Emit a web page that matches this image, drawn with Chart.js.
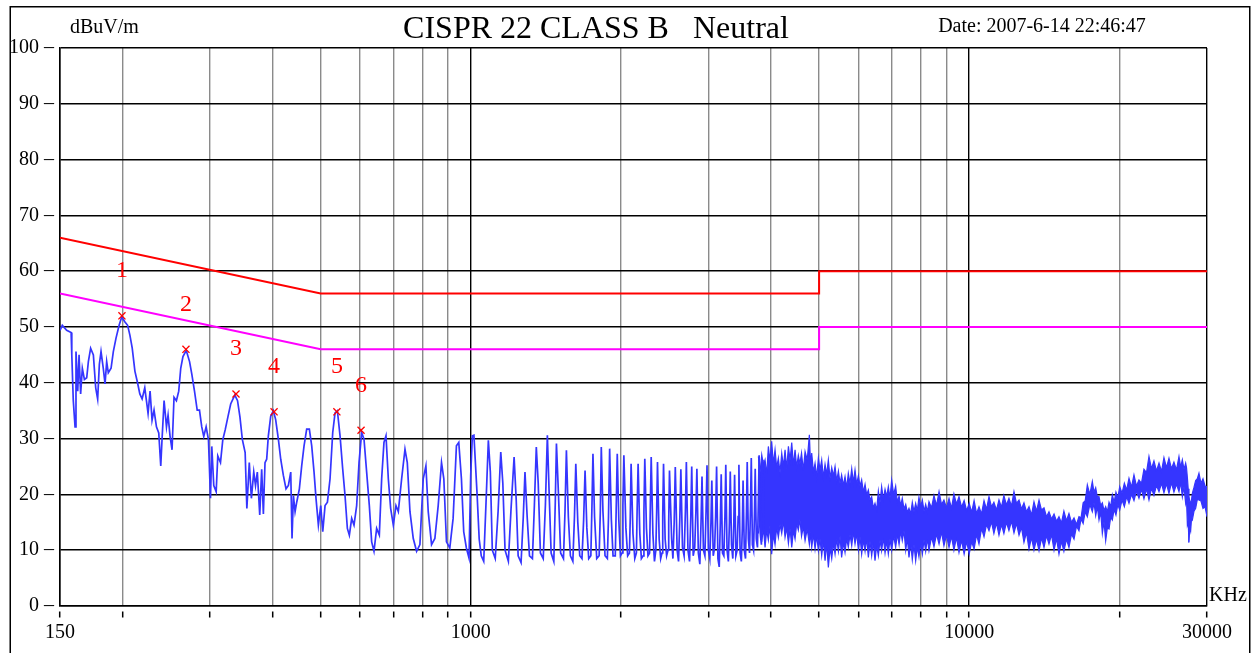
<!DOCTYPE html>
<html><head><meta charset="utf-8">
<script src="https://cdn.jsdelivr.net/npm/chart.js@4"></script>
<style>html,body{margin:0;padding:0;background:#fff}canvas{display:block}</style>
</head><body>
<canvas id="c" width="1252" height="653"></canvas>
<script>
// ---- measured trace (kHz / dBuV) ----
const traceFreq = [
150,151.6,154.7,157.9,158.4,159.5,160.8,161.5,162.8,163.8,
165,166.3,167.9,169.7,171,172.8,175,176.9,178.5,179.9,
181.3,183.2,184.7,186.1,187.5,189.9,191.9,194.3,197.1,199.5,
202.5,205,207.2,209.4,212,214.6,216.9,219.2,221.9,223.6,
225.3,227.4,229.5,231.6,234.2,236.7,238.9,240.3,242.6,245.3,
247.1,249.4,251.7,254,256.8,259.6,262,264.7,268.8,272.9,
275.8,279.2,282.7,285.7,288.7,291.4,294.6,297.8,300.6,302.4,
305.2,308.6,310.9,314.8,318.2,321.8,325.8,330,336.3,340.6,
344.4,348.3,352.8,355.6,359.6,363.1,367.1,370.1,373.2,377.4,
380.8,383.8,386.7,389.7,392.7,397,401.9,406.2,411.3,415.8,
420.9,426.1,430.8,435.5,438.1,440.9,444.3,447.7,453.2,458.1,
463.1,468.8,474.6,479.8,485,489.5,494.8,500.2,504.9,510.3,
515.9,522.2,528.7,534.4,540.2,546.9,553.6,559.6,565.7,570.9,
577.1,583.3,590.5,597,604.3,610.9,618.4,626.1,632.9,639.7,
647.6,655.7,662.8,669.9,676.2,683.5,690.9,699.5,708.1,715.8,
726.9,738.2,746.1,755.4,767,778.9,790.9,803.1,813.1,821.9,
834.6,847.5,860.6,873.9,883.3,894.1,908,922,936.2,946.4,
958.1,968.3,980.3,992.3,1000,1007.6,1015,1030,1040,1050,
1062,1075,1085,1095,1105,1120,1135,1149,1160,1172,
1190,1205,1222,1234,1245,1262,1275,1285,1298,1312,
1330,1342,1354,1366,1380,1398,1412,1425,1437,1450,
1468,1478,1486,1500,1515,1535,1546,1556,1570,1585,
1603,1615,1625,1640,1655,1672,1685,1696,1710,1725,
1742,1750,1759,1772,1790,1810,1820,1828,1842,1860,
1880,1890,1900,1915,1930,1950,1958,1968,1982,1997,
2012,2020,2029,2048,2065,2082,2090,2098,2116,2134,
2150,2157,2167,2184,2200,2218,2226,2235,2252,2268,
2285,2293,2302,2320,2337,2352,2361,2370,2388,2405,
2420,2428,2437,2455,2472,2488,2496,2505,2530,2545,
2560,2573,2595,2612,2628,2640,2660,2680,2696,2708,
2728,2748,2764,2776,2795,2815,2830,2843,2862,2882,
2898,2911,2930,2950,2966,2979,2998,3018,3034,3046,
3066,3086,3100,3114,3133,3152,3168,3181,3200,3220,
3236,3249,3268,3288,3304,3317,3336,3356,3372,3384,
3404,3424,3440,3452,3471,3491,3507,3519,3539,3559,
3575,3587,3606,3626,3642,3655,3674,3694,3710,3722,
3741,3761,3777,3790,3810,3830,3845,3857,3875
];
const traceLevel = [
49.4,50.3,49.4,49.0,45.0,36.8,32.1,45.6,38.5,45.0,
38.0,42.6,40.6,40.9,43.8,46.2,45.0,39.1,37.1,43.3,
45.6,42.6,39.8,43.8,41.8,42.6,45.6,48.0,50.3,51.8,
50.9,50.3,48.5,46.2,42.1,40.0,38.0,37.1,39.1,36.8,
34.5,38.5,33.3,35.1,32.1,31.0,25.1,29.8,36.8,32.1,
34.2,30.4,28.0,37.4,36.8,38.5,42.6,44.7,45.8,43.8,
41.5,38.5,35.1,35.1,32.1,30.4,32.1,29.8,19.3,28.6,
21.6,20.5,26.9,25.7,29.8,31.6,33.9,36.2,37.8,36.8,
33.9,29.8,27.5,17.5,25.7,19.3,24.0,21.6,24.0,16.3,
24.5,16.5,25.7,26.3,30.5,34.0,35.0,33.4,29.9,26.3,
23.4,21.0,21.6,24.0,12.1,19.8,16.9,18.6,21.0,25.1,
28.7,31.7,31.7,28.7,24.0,19.2,14.5,18.0,13.3,18.0,
18.6,22.8,31.1,34.6,35.0,30.5,24.6,19.8,13.9,12.7,
15.7,14.5,18.0,25.7,31.1,29.9,24.0,18.0,11.5,9.8,
13.9,12.7,22.8,29.3,30.5,22.8,17.5,14.5,18.0,16.9,
22.8,28.1,25.7,16.9,12.1,9.8,11.0,22.8,25.1,16.9,
11.0,12.1,18.0,25.7,22.8,11.5,10.4,15.7,28.7,29.3,
22.8,13.3,10.4,8.6,23.4,30.5,30.6,20.0,12.0,9.0,
8.0,20.0,29.7,24.0,10.0,8.5,17.0,27.6,22.0,10.0,
8.0,17.5,26.7,19.0,9.0,7.8,16.0,24.0,16.0,9.0,
8.5,18.0,28.5,22.0,9.5,8.5,18.0,30.6,20.0,9.5,
8.0,18.5,29.1,20.0,9.5,8.5,17.0,27.9,16.0,9.0,
8.0,16.0,25.5,15.0,9.0,8.5,15.5,24.3,14.0,8.5,
9.0,17.0,27.3,16.0,8.5,9.0,17.0,28.5,17.0,9.0,
8.5,16.0,28.2,15.5,9.0,9.0,17.0,27.3,15.5,9.0,
9.5,18.0,27.0,14.0,9.0,9.5,16.0,25.5,13.0,8.5,
9.5,17.0,25.5,13.0,8.5,9.0,17.0,26.4,14.0,9.0,
9.5,18.0,26.7,13.0,8.0,10.0,17.0,25.8,12.0,8.5,
9.5,16.0,25.5,12.0,9.0,10.0,15.0,24.3,12.0,8.5,
15.0,24.9,10.0,8.0,16.0,24.5,10.5,9.0,17.0,25.8,
10.0,8.0,16.0,25.0,9.0,10.5,17.0,24.6,9.5,7.5,
15.0,23.2,10.0,9.0,17.0,25.2,10.0,8.5,15.0,22.5,
9.0,10.5,16.0,25.0,8.5,7.0,15.0,23.6,9.5,9.0,
16.0,25.3,10.0,8.0,15.0,24.1,11.0,8.5,15.0,23.5,
9.0,10.0,16.0,25.3,9.5,8.0,14.0,22.5,10.0,8.5,
17.0,25.8,12.0,9.5,18.0,26.5,11.0,10.0,17.0,24.6,
12.0,10.5,19.0,27.0,13.0,11.0,20.0,26.2,13.0
];
// ---- dense part of the trace (3.8 - 30 MHz): read as max / min envelope ----
const bandFreq = [
3777,3806,3836,3865,3895,3925,3955,3985,4016,4047,4079,4110,4142,4174,4207,4240,4272,4305,4339,4372,
4406,4440,4474,4508,4542,4576,4610,4648,4686,4733,4780,4806,4832,4870,4907,4945,4983,5021,5060,5099,
5139,5178,5218,5259,5300,5341,5382,5424,5466,5507,5548,5592,5636,5679,5722,5767,5813,5857,5902,5948,
5995,6040,6086,6134,6182,6229,6277,6325,6374,6423,6473,6523,6574,6624,6674,6727,6780,6832,6884,6937,
6991,7056,7121,7177,7234,7288,7342,7401,7460,7516,7573,7631,7690,7750,7810,7870,7930,7993,8056,8118,
8180,8243,8306,8403,8500,8600,8701,8800,8900,9005,9111,9215,9320,9430,9541,9655,9770,9885,10000,10115,
10230,10347,10464,10587,10710,10834,10959,11084,11210,11343,11476,11608,11740,11878,12017,12158,12300,12444,12589,12734,
12880,13031,13183,13336,13490,13649,13808,13969,14130,14294,14458,14629,14800,14970,15141,15315,15490,15673,15856,16043,
16230,16418,16607,16768,16930,17095,17261,17462,17663,17801,17940,18078,18216,18358,18500,18643,18786,18933,19080,19226,
19372,19536,19700,19872,20045,20262,20480,20701,20923,21166,21410,21659,21909,22164,22420,22683,22946,23213,23480,23757,
24034,24312,24590,24878,25166,25458,25750,26053,26357,26563,26770,26976,27183,27291,27400,27503,27606,27713,27820,27928,
28036,28253,28470,28688,28907,29178,29450,29725,30000
];
const bandHigh = [
26.8,24.0,27.1,25.3,26.2,23.5,28.6,26.0,29.5,25.5,28.0,24.8,26.5,23.9,27.4,25.0,28.0,24.6,28.6,26.1,
29.3,25.2,28.0,24.9,27.0,25.5,27.4,24.3,27.7,26.2,30.7,25.4,27.4,24.0,25.6,23.1,26.5,24.4,26.2,23.0,
25.4,23.6,26.2,22.9,24.8,23.3,25.0,22.4,24.2,22.0,23.5,21.6,23.2,21.2,23.8,22.0,24.6,22.1,24.4,21.8,
23.4,21.5,22.6,20.4,21.8,19.9,20.8,19.0,19.6,17.6,18.4,17.2,20.6,18.5,21.4,19.1,20.9,19.6,21.4,19.4,
22.6,20.0,21.5,18.6,19.7,18.0,19.3,17.4,18.2,16.8,17.5,16.5,18.6,16.9,18.4,17.1,19.5,17.8,19.0,17.0,
18.2,16.9,18.7,17.6,19.8,18.0,20.5,18.2,19.0,17.6,19.3,17.5,20.1,18.3,19.6,17.7,18.9,17.1,18.4,16.8,
18.9,16.6,17.8,16.5,18.9,17.3,19.6,17.8,18.6,17.2,19.0,17.7,19.8,18.1,19.3,17.9,20.5,18.4,19.0,17.4,
18.5,16.9,17.8,16.3,18.7,17.0,19.0,17.2,17.6,16.0,16.9,15.6,16.5,15.2,16.0,14.9,17.0,15.3,16.6,15.0,
15.8,14.6,16.0,15.8,18.5,18.9,21.7,20.0,22.3,20.4,21.2,19.5,19.6,18.0,18.5,17.1,17.8,16.9,18.6,17.8,
19.9,18.6,20.4,19.4,21.4,20.2,22.0,20.8,22.9,21.3,23.5,21.5,22.6,22.0,24.5,23.9,26.8,24.6,26.0,24.2,
25.6,24.1,26.6,24.8,26.5,24.6,25.8,24.4,26.8,24.9,26.2,24.5,25.6,24.8,23.0,21.0,19.6,18.7,18.5,19.0,
20.2,21.3,22.5,22.8,23.8,22.0,22.8,21.5,21.4
];
const bandLow = [
13.0,15.2,11.5,14.0,10.5,13.6,11.8,14.4,9.3,12.8,11.0,14.1,12.3,14.6,13.0,15.3,12.3,14.0,11.2,13.9,
10.5,13.5,12.0,14.8,13.6,15.5,12.5,14.2,11.7,13.8,11.0,13.2,10.5,12.9,10.2,12.6,9.9,12.0,9.0,11.8,
8.1,11.2,6.9,10.4,8.5,11.3,9.3,12.0,9.8,12.5,8.7,11.4,9.6,12.1,10.5,12.8,10.8,13.3,11.1,13.0,
10.0,12.4,9.3,11.9,9.8,12.2,8.7,11.6,9.0,11.5,8.1,10.9,9.0,11.8,9.9,12.3,9.5,11.7,9.3,12.0,
10.0,12.6,10.5,12.9,11.0,13.4,11.7,13.5,10.0,12.2,8.7,11.3,8.3,11.0,8.1,10.6,8.8,11.4,9.3,11.9,
9.8,12.1,9.9,12.4,10.6,12.9,11.1,13.3,10.8,12.7,10.5,12.5,10.0,12.3,9.6,11.8,9.3,11.6,9.3,11.5,
10.2,12.8,11.1,13.9,12.4,14.6,13.5,15.1,13.0,14.9,12.7,14.6,13.0,15.0,13.5,15.2,13.1,14.8,12.7,14.1,
11.4,13.2,10.2,12.3,10.0,12.0,9.9,12.2,10.5,12.6,11.1,12.8,10.0,12.1,9.3,11.6,9.8,12.0,10.5,12.9,
12.0,14.3,13.5,15.6,14.8,16.9,16.0,18.2,16.9,18.5,16.2,17.8,15.4,16.9,13.0,15.1,11.7,14.0,13.8,15.9,
15.4,17.3,16.3,18.2,17.2,19.0,17.8,19.6,18.4,20.0,18.9,20.6,19.3,20.9,19.2,21.0,19.0,21.1,19.8,21.6,
20.5,22.0,20.3,21.9,20.2,22.1,20.4,21.8,20.5,22.2,19.6,21.4,18.4,19.2,14.5,15.0,11.4,14.2,13.5,15.6,
15.4,17.0,17.5,19.1,19.0,18.8,17.5,17.8,16.0
];
// ---- limits ----
const qpFreq = [150,500,5000,5000,30000];
const qpLevel = [66,56,56,60,60];
const avFreq = [150,500,5000,5000,30000];
const avLevel = [56,46,46,50,50];
// ---- markers ----
const markerFreq = [199.7,268.4,338.2,403.2,539,602.6];
const markerLevel = [52.0,46.0,38.0,34.8,34.8,31.5];
const markerLabels = ['1','2','3','4','5','6'];
// ---- axis ticks ----
const xTicks = [150,200,300,400,500,600,700,800,900,1000,2000,3000,4000,5000,6000,7000,8000,9000,10000,20000,30000];
const xLabelledTicks = [150,1000,10000,30000];
const xBlackLines = [150,1000,10000,30000];

const titleText = 'CISPR 22 CLASS B   Neutral';
const unitText = 'dBuV/m';
const dateText = 'Date: 2007-6-14 22:46:47';
const xUnitText = 'KHz';

const toXY = (fs, vs) => fs.map((f, i) => ({x: f, y: vs[i]}));
const SERIF = '"Liberation Serif", "Times New Roman", serif';
const BLUE = '#3535ff';

const decor = {
  id: 'decor',
  beforeDraw(chart) {
    const ctx = chart.ctx;
    ctx.save();
    ctx.fillStyle = '#fff';
    ctx.fillRect(0, 0, chart.width, chart.height);
    ctx.strokeStyle = '#000';
    ctx.lineWidth = 1.5;
    ctx.strokeRect(10.25, 6.75, 1239.5, 700);
    ctx.restore();
  },
  afterDraw(chart) {
    const ctx = chart.ctx, a = chart.chartArea;
    ctx.save();
    ctx.fillStyle = '#000';
    ctx.textBaseline = 'alphabetic';
    ctx.textAlign = 'left';
    ctx.font = '20px ' + SERIF;
    ctx.fillText(unitText, 70, 33);
    ctx.fillText(xUnitText, a.right + 2, a.bottom - 5);
    ctx.textAlign = 'center';
    ctx.fillText(dateText, 1042, 32);
    ctx.font = '32px ' + SERIF;
    ctx.fillText(titleText, 596, 38);
    const meta = chart.getDatasetMeta(0);
    ctx.fillStyle = '#ff0000';
    ctx.font = '24px ' + SERIF;
    ctx.textBaseline = 'middle';
    meta.data.forEach((pt, i) => {
      ctx.fillText(markerLabels[i], pt.x, pt.y - 45);
    });
    ctx.restore();
  }
};

new Chart(document.getElementById('c'), {
  type: 'line',
  data: {
    datasets: [
      {label: 'Marker', data: toXY(markerFreq, markerLevel), showLine: false,
       pointStyle: 'crossRot', pointRadius: 5, pointBorderColor: '#ff0000',
       pointBorderWidth: 1.3, borderColor: '#ff0000', order: 0},
      {label: 'QP limit', data: toXY(qpFreq, qpLevel), borderColor: '#ff0000',
       borderWidth: 2, pointRadius: 0, fill: false, order: 1},
      {label: 'AV limit', data: toXY(avFreq, avLevel), borderColor: '#ff00ff',
       borderWidth: 2, pointRadius: 0, fill: false, order: 1},
      {label: 'Level', data: toXY(traceFreq, traceLevel), borderColor: BLUE,
       borderWidth: 1.7, pointRadius: 0, fill: false, order: 2},
      {label: 'Level max', data: toXY(bandFreq, bandHigh), borderColor: BLUE,
       borderWidth: 1.2, pointRadius: 0, fill: '+1', backgroundColor: BLUE, order: 3},
      {label: 'Level min', data: toXY(bandFreq, bandLow), borderColor: BLUE,
       borderWidth: 1.2, pointRadius: 0, fill: false, order: 3}
    ]
  },
  options: {
    responsive: false,
    animation: false,
    devicePixelRatio: 1,
    layout: {padding: {left: 0, top: 48, right: 45, bottom: 0}},
    plugins: {legend: {display: false}, tooltip: {enabled: false}, title: {display: false}},
    scales: {
      x: {
        type: 'logarithmic', min: 150, max: 30000,
        afterBuildTicks(s) { s.ticks = xTicks.map(v => ({value: v})); },
        afterFit(s) { s.height = 47; },
        ticks: {
          autoSkip: false, maxRotation: 0, minRotation: 0, padding: 3, color: '#000',
          font: {family: SERIF, size: 20},
          callback: (v) => xLabelledTicks.includes(Number(v)) ? String(v) : ''
        },
        grid: {
          color: (c) => (c.tick && xBlackLines.includes(c.tick.value)) ? '#000' : '#8a8a8a',
          lineWidth: 1.4, drawTicks: true, tickLength: 12, tickColor: '#000', tickWidth: 1.5,
          tickBorderDash: [0, 5, 6, 40]
        },
        border: {color: '#000', width: 1.5}
      },
      y: {
        min: 0, max: 100,
        afterFit(s) { s.width = 60; },
        ticks: {stepSize: 10, padding: 6, color: '#000', font: {family: SERIF, size: 20},
                callback: (v) => v + ' \u2013'},
        grid: {color: '#000', lineWidth: 1.5, drawTicks: false},
        border: {color: '#000', width: 1.5}
      }
    }
  },
  plugins: [decor]
});
</script>
</body></html>
